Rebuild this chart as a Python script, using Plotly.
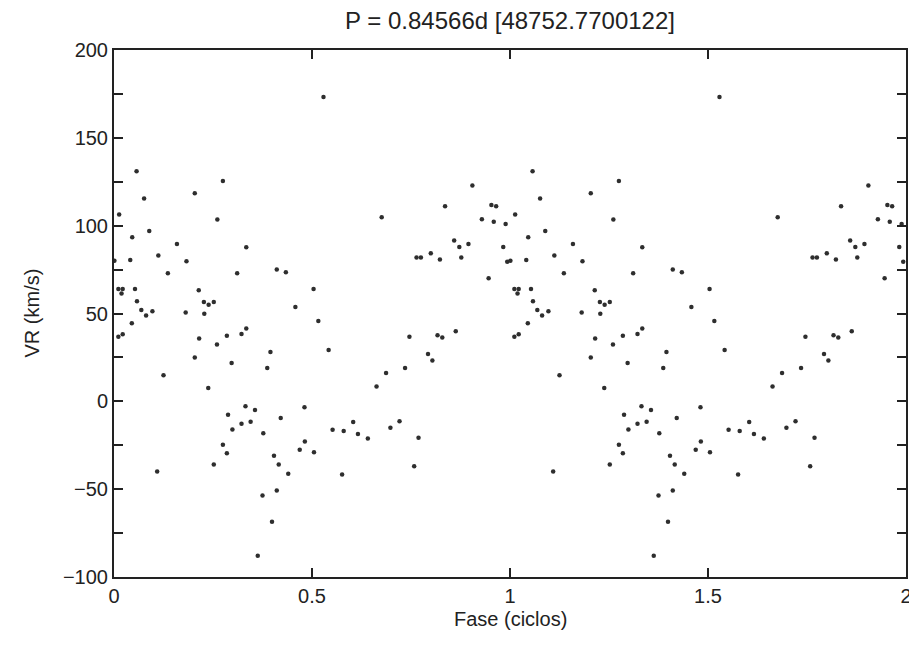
import plotly.graph_objects as go

# Phase (cycles, 0..1) and radial velocity (km/s)
phase = [0.057, 0.275, 0.076, 0.204, 0.013, 0.261, 0.089, 0.046, 0.334, 0.159,
         0.041, 0.112, 0.183, 0.136, 0.311, 0.411, 0.434, 0.504, 0.011, 0.022,
         0.019, 0.053, 0.214, 0.058, 0.227, 0.239, 0.252, 0.069, 0.081, 0.097,
         0.181, 0.228, 0.458, 0.516, 0.045, 0.011, 0.022, 0.215, 0.285, 0.260,
         0.322, 0.334, 0.395, 0.204, 0.297, 0.387, 0.125, 0.238, 0.332, 0.356,
         0.481, 0.288, 0.421, 0.299, 0.322, 0.345, 0.377, 0.275, 0.285, 0.482,
         0.469, 0.505, 0.252, 0.109, 0.404, 0.416, 0.440, 0.375, 0.411, 0.399,
         0.363, 0.529, 0.905, 0.836, 0.953, 0.965, 0.676, 0.929, 0.959, 0.989,
         0.859, 0.872, 0.895, 0.983, 0.800, 0.764, 0.775, 0.823, 0.877, 0.993,
         0.001, 0.946, 0.542, 0.746, 0.817, 0.829, 0.863, 0.793, 0.804, 0.735,
         0.687, 0.663, 0.552, 0.580, 0.604, 0.616, 0.641, 0.698, 0.721, 0.769,
         0.576, 0.758]
vr = [131.0, 125.4, 115.5, 118.5, 106.4, 103.5, 97.0, 93.4, 87.7, 89.5,
      80.5, 83.0, 79.8, 72.9, 72.9, 75.0, 73.5, 64.0, 64.0, 64.0,
      61.4, 64.0, 63.2, 57.0, 56.6, 55.0, 56.6, 52.0, 48.8, 51.3,
      50.5, 49.8, 53.7, 45.8, 44.4, 36.7, 38.2, 35.8, 37.4, 32.3,
      38.4, 41.4, 28.1, 24.9, 21.8, 19.0, 14.8, 7.6, -2.8, -5.0,
      -3.4, -7.6, -9.5, -16.0, -12.7, -11.6, -18.2, -24.7, -29.6, -22.8,
      -27.5, -29.0, -35.9, -40.0, -31.0, -35.9, -41.2, -53.6, -50.7, -68.5,
      -87.9, 173.2, 122.9, 111.0, 111.7, 111.0, 104.8, 103.7, 102.2, 101.0,
      91.6, 87.8, 89.5, 87.8, 84.3, 81.9, 81.9, 80.7, 81.9, 79.4,
      80.0, 70.0, 29.2, 36.7, 37.6, 36.3, 39.9, 27.0, 23.2, 19.0,
      16.2, 8.4, -16.2, -16.9, -11.8, -18.6, -21.1, -15.0, -11.4, -20.7,
      -41.6, -37.0]

x_ticks = [0, 0.5, 1, 1.5, 2]
x_labels = ["0", "0.5", "1", "1.5", "2"]
y_ticks = list(range(-100, 201, 25))
y_labels = [(str(v).replace("-", "\u2212") if v % 50 == 0 else "") for v in y_ticks]

title_text = "P = 0.84566d [48752.7700122]"
x_title = "Fase (ciclos)"
y_title = "VR (km/s)"

xs = phase + [p + 1 for p in phase]
ys = vr + vr

FONT = "Liberation Sans, Arial, sans-serif"
INK = "#222222"

# The page body has an 8px margin, so the figure is sized to fill the window.
W, H = 909, 642

fig = go.Figure()
fig.add_trace(go.Scatter(
    x=xs, y=ys, mode="markers",
    marker=dict(symbol="circle", size=4.5, color="#2e2e2e", line=dict(width=0)),
    showlegend=False, hoverinfo="x+y",
))

axis_common = dict(
    showline=True, linewidth=2, linecolor=INK, mirror="ticks",
    ticks="inside", ticklen=9, tickwidth=2, tickcolor=INK,
    showgrid=False, zeroline=False, automargin=False,
    tickfont=dict(family=FONT, size=20, color=INK),
)

fig.update_layout(
    width=W, height=H,
    margin=dict(l=106, r=11, t=42, b=73),
    paper_bgcolor="white", plot_bgcolor="white",
    font=dict(family=FONT, color=INK),
    title=dict(text=title_text, x=0.5, xref="paper", xanchor="center",
               y=1 - 13 / H, yref="container", yanchor="middle",
               font=dict(family=FONT, size=24, color=INK)),
    xaxis=dict(range=[0, 2], tickmode="array", tickvals=x_ticks, ticktext=x_labels,
               **axis_common),
    yaxis=dict(range=[-100, 200], tickmode="array", tickvals=y_ticks, ticktext=y_labels,
               **axis_common),
    annotations=[
        dict(text=x_title, xref="paper", yref="paper", x=0.5, y=0,
             xanchor="center", yanchor="middle", yshift=-42, showarrow=False,
             font=dict(family=FONT, size=20, color=INK)),
        dict(text=y_title, xref="paper", yref="paper", x=0, y=0.5,
             xanchor="center", yanchor="middle", xshift=-83, textangle=-90,
             showarrow=False, font=dict(family=FONT, size=20, color=INK)),
    ],
)

fig.write_html("out.html")
